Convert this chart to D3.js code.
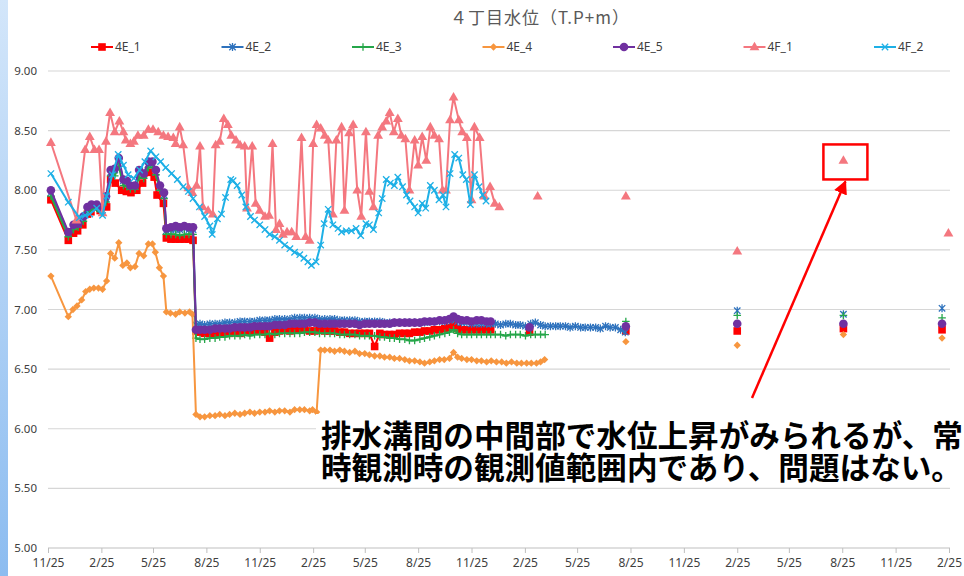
<!DOCTYPE html>
<html><head><meta charset="utf-8">
<script src="https://cdn.jsdelivr.net/npm/d3@7"></script>
<style>body{margin:0;background:#fff;} svg{display:block}</style>
</head><body>
<svg id="c" width="964" height="576"></svg>
<script>
// ---------- data ----------
const titleText = "４丁目水位（T.P+m）";
const baseDate = "2013-11-25";            // day offsets below are counted from this date
const axisStart = "2013-11-25";
const axisEnd = "2018-02-25";
const tickDates = ["2013-11-25","2014-02-25","2014-05-25","2014-08-25","2014-11-25","2015-02-25",
  "2015-05-25","2015-08-25","2015-11-25","2016-02-25","2016-05-25","2016-08-25","2016-11-25",
  "2017-02-25","2017-05-25","2017-08-25","2017-11-25","2018-02-25"];
const yTicks = [5.0,5.5,6.0,6.5,7.0,7.5,8.0,8.5,9.0];
const seriesNames = ["4E_1","4E_2","4E_3","4E_4","4E_5","4F_1","4F_2"];
const noteLines = ["排水溝間の中間部で水位上昇がみられるが、常","時観測時の観測値範囲内であり、問題はない。"];

// shared observation days (4E wells)
const earlyDays = [5,35,44,52,61,68,75,84,91,100,108,115,122,130,136,142,150,157,165,173,180,186,193,200,204,212,220,227,235,243,250];
const postDays = [255,262,270,279,288,296,305,313,322,331,339,348,356,365,374,382,391,399,408,417,425,434,442,451,460,468,477,486,494,503,511,520,529,537,546,554,563,572,580,589,597,606,615,623,632,641,649,658,666,675,684,692,699,706,713,722,730,739,747,756,763];
const laterDays = [771,780,789,797,806,814,823,832,840,849,857,866,875,883,892,900,909,918,926,935,944,952,961,969,978,987,995];
const sparseDays = [996,1188,1371,1541];

// 4E_1
const e1EarlyDays = [5,35,44,51,60,68,74,81,90,101,108,116,127,135,143,153,163,174,183,188,199,204,212,220,227,235,243,250];
const e1EarlyVals = [7.92,7.58,7.64,7.66,7.71,7.80,7.82,7.86,7.83,7.86,8.09,8.06,8.00,7.99,7.98,8.00,8.06,8.15,8.11,7.96,7.89,7.60,7.59,7.59,7.59,7.59,7.59,7.58];
const e1PostVals = [6.82,6.81,6.80,6.80,6.79,6.80,6.80,6.80,6.81,6.80,
  6.81,6.81,6.82,6.82,6.81,6.76,6.81,6.82,6.83,6.82,
  6.83,6.83,6.83,6.82,6.82,6.83,6.82,6.82,6.82,6.81,
  6.81,6.80,6.80,6.80,6.80,6.80,6.69,6.80,6.79,6.79,
  6.79,6.80,6.80,6.80,6.81,6.81,6.82,6.82,6.83,6.83,
  6.84,6.85,6.87,6.84,6.83,6.83,6.83,6.83,6.83,6.83,6.83];
const e1SparseDays = [830,996,1188,1371,1541];
const e1SparseVals = [6.81,6.82,6.82,6.84,6.83];

// 4E_2
const e2EarlyVals = [7.98,7.64,7.70,7.71,7.76,7.84,7.86,7.87,7.84,7.93,8.15,8.17,8.25,8.08,8.07,8.03,8.03,8.15,8.13,8.22,8.22,8.15,8.02,7.96,7.66,7.67,7.67,7.67,7.68,7.67,7.67];
const e2PostVals = [6.87,6.88,6.87,6.88,6.88,6.88,6.89,6.89,6.89,6.90,
  6.90,6.90,6.90,6.91,6.91,6.91,6.92,6.92,6.92,6.92,
  6.93,6.93,6.93,6.93,6.93,6.92,6.92,6.92,6.92,6.91,
  6.91,6.91,6.91,6.90,6.90,6.90,6.90,6.90,6.89,6.89,
  6.89,6.89,6.89,6.89,6.89,6.89,6.89,6.90,6.90,6.90,
  6.90,6.91,6.92,6.90,6.89,6.89,6.88,6.88,6.88,6.88,6.88];
const e2LaterVals = [6.88,6.87,6.88,6.88,6.87,6.87,6.86,6.88,6.89,6.87,
  6.86,6.86,6.86,6.86,6.86,6.85,6.86,6.85,6.85,6.85,
  6.85,6.84,6.86,6.85,6.85,6.83,6.81];
const e2SparseDays = [1188,1371,1541];
const e2SparseVals = [6.99,6.96,7.01];

// 4E_3
const e3EarlyVals = [7.95,7.61,7.67,7.69,7.74,7.82,7.84,7.85,7.82,7.90,8.12,8.12,8.20,8.04,8.03,8.01,8.01,8.11,8.10,8.19,8.19,8.13,8.00,7.93,7.63,7.63,7.63,7.62,7.63,7.63,7.63];
const e3PostVals = [6.76,6.75,6.75,6.76,6.76,6.77,6.77,6.78,6.78,6.78,
  6.79,6.78,6.79,6.79,6.79,6.80,6.79,6.80,6.80,6.80,
  6.80,6.80,6.81,6.81,6.81,6.80,6.80,6.80,6.80,6.79,
  6.79,6.79,6.79,6.78,6.78,6.78,6.78,6.77,6.77,6.76,
  6.76,6.75,6.75,6.74,6.74,6.75,6.76,6.77,6.78,6.79,
  6.80,6.81,6.83,6.80,6.79,6.79,6.79,6.79,6.79,6.79,6.79];
const e3LaterVals = [6.79,6.79,6.78,6.79,6.79,6.79,6.78,6.79,6.79,6.79,6.79];
const e3SparseVals = [6.90,6.95,6.95,6.93];

// 4E_4
const e4Days = [5,35,43,50,58,65,72,79,87,94,101,108,115,122,129,136,142,150,157,165,173,180,185,192,199,204,211,220,227,236,244,249,255,262,
  270,279,288,296,305,313,322,331,339,348,356,365,374,382,391,399,408,417,425,434,442,451,456,463,470,477,486,494,503,511,
  520,529,537,546,554,563,572,580,589,597,606,615,623,632,641,649,658,666,675,683,692,699,706,713,722,730,739,747,756,764,
  773,782,790,799,808,816,825,833,842,849,856];
const e4Vals = [7.28,6.94,7.00,7.03,7.08,7.15,7.17,7.18,7.18,7.17,7.24,7.47,7.43,7.56,7.37,7.39,7.35,7.36,7.47,7.45,7.55,7.55,7.48,7.35,7.28,6.98,6.97,6.96,6.98,6.97,6.98,6.96,6.12,6.10,
  6.10,6.11,6.11,6.12,6.11,6.12,6.13,6.12,6.13,6.14,6.13,6.14,6.14,6.15,6.14,6.15,6.15,6.14,6.16,6.16,6.16,6.15,6.16,6.14,6.66,6.66,6.66,6.65,6.66,6.65,
  6.64,6.65,6.63,6.63,6.62,6.61,6.61,6.60,6.60,6.59,6.59,6.58,6.57,6.57,6.56,6.55,6.56,6.57,6.58,6.58,6.59,6.64,6.60,6.59,6.58,6.58,6.57,6.57,6.56,6.57,
  6.56,6.56,6.55,6.56,6.55,6.55,6.55,6.55,6.55,6.56,6.58];
const e4SparseVals = [6.73,6.70,6.79,6.76];

// 4E_5
const e5EarlyVals = [8.00,7.65,7.71,7.72,7.78,7.86,7.88,7.88,7.85,7.95,8.17,8.18,8.27,8.09,8.08,8.04,8.04,8.17,8.14,8.24,8.24,8.17,8.04,7.98,7.68,7.69,7.70,7.69,7.70,7.69,7.69];
const e5PostVals = [6.83,6.83,6.83,6.83,6.84,6.84,6.84,6.84,6.85,6.85,
  6.85,6.85,6.86,6.86,6.86,6.86,6.87,6.87,6.87,6.88,
  6.88,6.88,6.88,6.89,6.89,6.88,6.88,6.88,6.88,6.88,
  6.88,6.88,6.88,6.87,6.88,6.88,6.88,6.88,6.88,6.88,
  6.89,6.89,6.89,6.89,6.89,6.89,6.90,6.90,6.90,6.91,
  6.91,6.92,6.94,6.92,6.91,6.91,6.90,6.91,6.91,6.90,6.90];
const e5SparseDays = [830,996,1188,1371,1541];
const e5SparseVals = [6.85,6.86,6.88,6.88,6.88];

// 4F_1
const f1Days = [5,49,64,72,80,88,94,100,107,115,123,130,134,142,148,155,165,173,181,190,
  199,207,216,220,227,233,242,249,256,262,267,276,284,289,296,303,310,316,324,331,
  339,343,352,358,365,374,381,387,393,399,405,412,420,428,437,444,451,457,463,470,
  477,483,491,497,506,511,519,526,533,540,548,554,561,569,576,583,589,596,603,609,
  616,623,632,638,645,652,659,666,674,680,686,693,699,708,714,722,730,735,744,752,762,770,778];
const f1Vals = [8.40,7.75,8.34,8.45,8.34,8.34,7.81,8.41,8.65,8.49,8.58,8.49,8.42,8.39,8.41,8.46,8.46,8.51,8.51,8.49,
  8.46,8.45,8.44,8.39,8.53,8.38,8.02,7.98,8.04,8.37,7.86,7.83,7.80,8.38,8.41,8.60,8.55,8.46,8.42,8.38,
  8.37,7.85,8.37,7.89,7.83,7.78,7.79,8.39,7.67,7.72,7.63,7.65,7.65,7.61,8.44,7.61,7.58,8.39,8.55,8.52,
  8.46,8.42,7.80,8.42,8.53,7.83,8.48,8.55,8.00,7.78,8.49,7.99,7.86,8.46,8.53,8.58,8.65,8.49,8.60,8.46,
  8.43,8.00,8.42,8.21,8.45,8.25,8.53,8.46,8.43,8.00,8.00,8.59,8.78,8.59,8.49,8.44,7.92,8.53,8.44,7.95,8.03,7.89,7.86];
const f1SparseDays = [844,996,1188,1371,1552];
const f1SparseVals = [7.95,7.95,7.49,8.25,7.64];

// 4F_2
const f2Days = [5,35,54,64,72,84,94,101,111,121,130,138,148,158,167,177,186,194,203,213,
  223,233,242,250,261,270,279,283,292,299,306,315,319,326,334,341,349,356,365,374,
  382,391,399,408,417,425,434,441,448,454,462,470,476,483,491,500,506,514,523,531,
  539,548,554,561,570,576,583,590,597,603,611,618,624,632,638,645,651,659,666,674,
  681,686,693,701,708,715,721,728,735,743,749,755];
const f2Vals = [8.14,7.90,7.77,7.79,7.80,7.85,7.79,7.95,8.13,8.30,8.21,8.13,8.10,8.17,8.24,8.33,8.28,8.24,8.19,8.14,
  8.09,8.03,7.99,7.93,7.86,7.78,7.70,7.63,7.76,7.80,7.94,8.09,8.08,8.04,7.96,7.86,7.78,7.75,7.71,7.67,
  7.63,7.61,7.58,7.54,7.51,7.48,7.46,7.43,7.40,7.37,7.40,7.54,7.72,7.84,7.71,7.68,7.65,7.66,7.66,7.68,
  7.62,7.72,7.71,7.67,7.81,7.93,8.09,8.06,8.04,8.11,8.03,7.96,7.91,7.86,7.81,7.89,7.85,8.04,8.00,7.92,
  7.96,7.86,8.14,8.30,8.27,8.13,8.09,7.88,8.13,8.03,7.96,7.91];

// ---------- chart ----------
const parse = d3.timeParse("%Y-%m-%d");
const base = parse(baseDate);
const toDate = d => d3.timeDay.offset(base, d);
const pts = (days, vals) => days.map((d, i) => ({date: toDate(d), v: vals[i]}));

const seriesStyle = {
  "4E_1": {color: "#ff0000", marker: "square"},
  "4E_2": {color: "#2e72bd", marker: "star"},
  "4E_3": {color: "#25a649", marker: "plus"},
  "4E_4": {color: "#f7963f", marker: "diamond"},
  "4E_5": {color: "#7030a0", marker: "circle"},
  "4F_1": {color: "#f4777f", marker: "triangle"},
  "4F_2": {color: "#1eb0e6", marker: "cross"}
};

const series = [
  {name: "4E_1", line: pts(e1EarlyDays.concat(postDays), e1EarlyVals.concat(e1PostVals)), sparse: pts(e1SparseDays, e1SparseVals)},
  {name: "4E_2", line: pts(earlyDays.concat(postDays, laterDays), e2EarlyVals.concat(e2PostVals, e2LaterVals)), sparse: pts(e2SparseDays, e2SparseVals)},
  {name: "4E_3", line: pts(earlyDays.concat(postDays, laterDays.slice(0, e3LaterVals.length)), e3EarlyVals.concat(e3PostVals, e3LaterVals)), sparse: pts(sparseDays, e3SparseVals)},
  {name: "4E_4", line: pts(e4Days, e4Vals), sparse: pts(sparseDays, e4SparseVals)},
  {name: "4E_5", line: pts(earlyDays.concat(postDays), e5EarlyVals.concat(e5PostVals)), sparse: pts(e5SparseDays, e5SparseVals)},
  {name: "4F_1", line: pts(f1Days, f1Vals), sparse: pts(f1SparseDays, f1SparseVals)},
  {name: "4F_2", line: pts(f2Days, f2Vals), sparse: []}
];

const svg = d3.select("#c");
const W = 964, H = 576;
const plot = {left: 48, right: 950, top: 71, bottom: 548};

const x = d3.scaleTime().domain([parse(axisStart), parse(axisEnd)]).range([plot.left, plot.right - 1]);
const y = d3.scaleLinear().domain([5, 9]).range([plot.bottom, plot.top]);

// left decorative strip
const defs = svg.append("defs");
const grad = defs.append("linearGradient").attr("id", "strip").attr("x1", 0).attr("y1", 0).attr("x2", 0).attr("y2", 1);
grad.append("stop").attr("offset", "0%").attr("stop-color", "#d3e6fa");
grad.append("stop").attr("offset", "100%").attr("stop-color", "#8cbcf0");
svg.append("rect").attr("x", 0).attr("y", 0).attr("width", 8).attr("height", H).attr("fill", "url(#strip)");

// title
svg.append("text").attr("x", 540).attr("y", 24).attr("text-anchor", "middle")
  .attr("font-family", "'Noto Sans CJK JP', sans-serif").attr("font-size", 17).attr("letter-spacing", 1)
  .attr("fill", "#595959").text(titleText);

// gridlines
svg.append("g").selectAll("line").data(yTicks.filter(t => t > 5)).join("line")
  .attr("x1", plot.left).attr("x2", plot.right)
  .attr("y1", d => y(d)).attr("y2", d => y(d))
  .attr("stroke", "#d6d6d6").attr("stroke-width", 1.2);

// y labels
svg.append("g").selectAll("text").data(yTicks).join("text")
  .attr("x", 37).attr("y", d => y(d)).attr("dy", "0.35em").attr("text-anchor", "end")
  .attr("font-family", "'Noto Sans', sans-serif").attr("font-size", 11.5).attr("fill", "#404040")
  .text(d => d3.format(".2f")(d));

// x axis
const xAxis = d3.axisBottom(x).tickValues(tickDates.map(parse)).tickFormat(d3.timeFormat("%-m/%d")).tickSize(5).tickSizeOuter(0);
const gx = svg.append("g").attr("transform", `translate(0,${plot.bottom})`).call(xAxis);
gx.select(".domain").remove();
gx.selectAll(".tick line").attr("stroke", "#bfbfbf");
gx.selectAll(".tick text").attr("font-family", "'Liberation Sans Narrow', 'Noto Sans', sans-serif")
  .attr("font-size", 12).attr("fill", "#404040").attr("dy", "0.95em");
svg.append("line").attr("x1", plot.left).attr("x2", plot.right).attr("y1", plot.bottom).attr("y2", plot.bottom)
  .attr("stroke", "#bfbfbf").attr("stroke-width", 1.2);

// marker drawing
function drawMarker(g, type, color, cx, cy) {
  const s = d3.symbol();
  if (type === "square") {
    g.append("rect").attr("x", cx - 3.8).attr("y", cy - 3.8).attr("width", 7.6).attr("height", 7.6).attr("fill", color);
  } else if (type === "circle") {
    g.append("circle").attr("cx", cx).attr("cy", cy).attr("r", 4.3).attr("fill", color);
  } else if (type === "diamond") {
    g.append("path").attr("d", s.type(d3.symbolDiamond2).size(34)()).attr("transform", `translate(${cx},${cy})`).attr("fill", color);
  } else if (type === "triangle") {
    g.append("path").attr("d", s.type(d3.symbolTriangle).size(42)()).attr("transform", `translate(${cx},${cy + 0.5})`).attr("fill", color);
  } else if (type === "plus") {
    const r = 3.8;
    g.append("path").attr("d", `M${cx - r},${cy}H${cx + r}M${cx},${cy - r}V${cy + r}`).attr("stroke", color).attr("stroke-width", 1.3).attr("fill", "none");
  } else if (type === "cross") {
    const r = 3.2;
    g.append("path").attr("d", `M${cx - r},${cy - r}L${cx + r},${cy + r}M${cx - r},${cy + r}L${cx + r},${cy - r}`).attr("stroke", color).attr("stroke-width", 1.3).attr("fill", "none");
  } else if (type === "star") {
    const r = 3.2;
    g.append("path").attr("d", `M${cx - r},${cy - r}L${cx + r},${cy + r}M${cx - r},${cy + r}L${cx + r},${cy - r}M${cx},${cy - 4}V${cy + 4}`).attr("stroke", color).attr("stroke-width", 1.3).attr("fill", "none");
  }
}

const line = d3.line().defined(d => d.v != null).x(d => x(d.date)).y(d => y(d.v));
const gSeries = svg.append("g");
series.forEach(s => {
  const st = seriesStyle[s.name];
  const g = gSeries.append("g");
  g.append("path").attr("d", line(s.line)).attr("fill", "none").attr("stroke", st.color)
    .attr("stroke-width", 2).attr("stroke-linejoin", "round");
  s.line.concat(s.sparse).forEach(p => drawMarker(g, st.marker, st.color, x(p.date), y(p.v)));
});

// legend
const legend = svg.append("g");
seriesNames.forEach((n, i) => {
  const st = seriesStyle[n];
  const cx = 102 + i * 130.5, cy = 47;
  legend.append("line").attr("x1", cx - 11).attr("x2", cx + 11).attr("y1", cy).attr("y2", cy).attr("stroke", st.color).attr("stroke-width", 2);
  drawMarker(legend, st.marker, st.color, cx, cy);
  legend.append("text").attr("x", cx + 13).attr("y", cy).attr("dy", "0.35em")
    .attr("font-family", "'Liberation Sans Narrow', 'Noto Sans', sans-serif").attr("font-size", 12).attr("fill", "#404040").text(n);
});

// annotation: box around the highlighted 4F_1 point and arrow from the note
const hx = x(toDate(f1SparseDays[3])), hy = y(f1SparseVals[3]);
svg.append("rect").attr("x", hx - 20).attr("y", hy - 16).attr("width", 44).attr("height", 35)
  .attr("fill", "none").attr("stroke", "#ff0000").attr("stroke-width", 2.5);
defs.append("marker").attr("id", "ah").attr("viewBox", "0 0 10 10").attr("refX", 9).attr("refY", 5)
  .attr("markerWidth", 5.5).attr("markerHeight", 5.5).attr("orient", "auto-start-reverse")
  .append("path").attr("d", "M0,0L10,5L0,10Z").attr("fill", "#ff0000");
svg.append("line").attr("x1", 752).attr("y1", 398).attr("x2", hx + 2).attr("y2", hy + 21)
  .attr("stroke", "#ff0000").attr("stroke-width", 2.5).attr("marker-end", "url(#ah)");

// note text
svg.append("rect").attr("x", 316).attr("y", 414).attr("width", W - 316).attr("height", 72).attr("fill", "#ffffff");
svg.append("g").selectAll("text").data(noteLines).join("text")
  .attr("x", 321).attr("y", (d, i) => 447 + i * 32)
  .attr("font-family", "'Noto Sans CJK JP', sans-serif").attr("font-weight", 700).attr("font-size", 30.6)
  .attr("fill", "#000").text(d => d);
</script>
</body></html>
